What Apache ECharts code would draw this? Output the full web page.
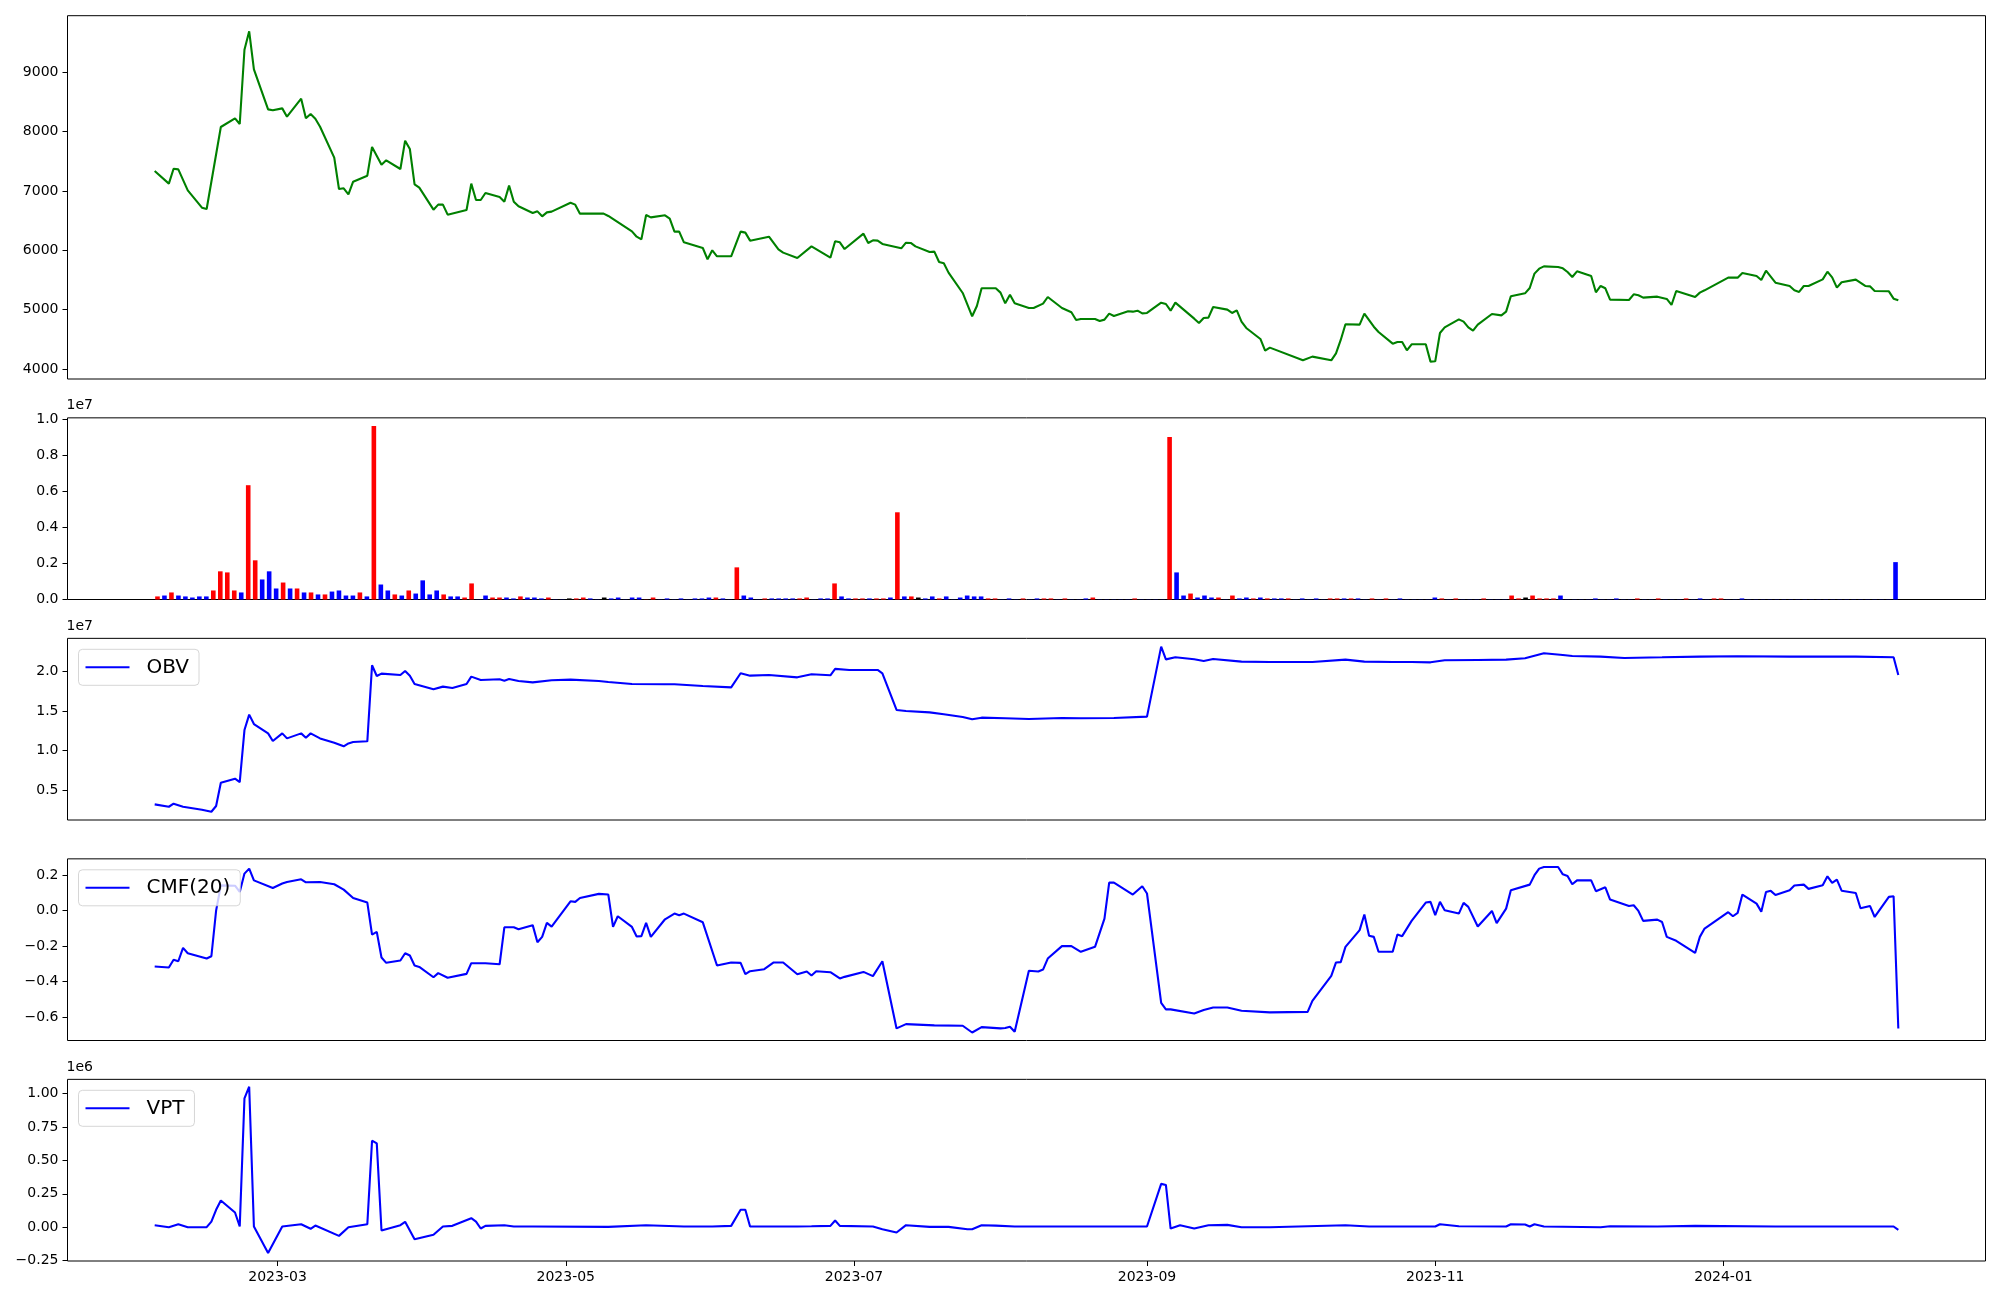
<!DOCTYPE html>
<html><head><meta charset="utf-8">
<script src="https://cdn.jsdelivr.net/npm/echarts@6/dist/echarts.min.js"></script>
<style>html,body{margin:0;padding:0;background:#fff}#c{width:2000px;height:1300px}</style>
</head><body><div id="c"></div>
<script>
// ---------------- data ----------------
const price = [
['2023-02-03',7337],['2023-02-06',7124],['2023-02-07',7376],['2023-02-08',7365],['2023-02-10',7011],['2023-02-13',6719],['2023-02-14',6697],['2023-02-17',8079],['2023-02-20',8225],['2023-02-21',8129],
['2023-02-22',9382],['2023-02-23',9691],['2023-02-24',9051],['2023-02-27',8376],['2023-02-28',8360],['2023-03-02',8393],['2023-03-03',8253],['2023-03-06',8556],['2023-03-07',8225],['2023-03-08',8298],
['2023-03-09',8219],['2023-03-10',8084],['2023-03-13',7562],['2023-03-14',7034],['2023-03-15',7045],['2023-03-16',6944],['2023-03-17',7157],['2023-03-20',7258],['2023-03-21',7742],['2023-03-23',7444],
['2023-03-24',7517],['2023-03-27',7371],['2023-03-28',7848],['2023-03-29',7708],['2023-03-30',7112],['2023-03-31',7056],['2023-04-03',6685],['2023-04-04',6770],['2023-04-05',6770],['2023-04-06',6601],
['2023-04-10',6680],['2023-04-11',7124],['2023-04-12',6848],['2023-04-13',6848],['2023-04-14',6966],['2023-04-17',6899],['2023-04-18',6820],['2023-04-19',7090],['2023-04-20',6820],['2023-04-21',6742],
['2023-04-24',6629],['2023-04-25',6657],['2023-04-26',6573],['2023-04-27',6640],['2023-04-28',6652],['2023-05-02',6803],['2023-05-03',6770],['2023-05-04',6618],['2023-05-09',6618],['2023-05-10',6579],
['2023-05-15',6320],['2023-05-16',6230],['2023-05-17',6185],['2023-05-18',6596],['2023-05-19',6556],['2023-05-22',6590],['2023-05-23',6534],['2023-05-24',6315],['2023-05-25',6315],['2023-05-26',6135],
['2023-05-30',6039],['2023-05-31',5848],['2023-06-01',6000],['2023-06-02',5899],['2023-06-05',5899],['2023-06-07',6315],['2023-06-08',6298],['2023-06-09',6163],['2023-06-13',6230],['2023-06-15',6017],
['2023-06-16',5961],['2023-06-19',5871],['2023-06-22',6067],['2023-06-26',5876],['2023-06-27',6152],['2023-06-28',6135],['2023-06-29',6022],['2023-07-03',6281],['2023-07-04',6124],['2023-07-05',6169],
['2023-07-06',6163],['2023-07-07',6107],['2023-07-11',6034],['2023-07-12',6129],['2023-07-13',6124],['2023-07-14',6067],['2023-07-17',5972],['2023-07-18',5978],['2023-07-19',5803],['2023-07-20',5781],
['2023-07-21',5624],['2023-07-24',5281],['2023-07-26',4888],['2023-07-27',5062],['2023-07-28',5360],['2023-07-31',5360],['2023-08-01',5287],['2023-08-02',5107],['2023-08-03',5253],['2023-08-04',5107],
['2023-08-07',5028],['2023-08-08',5028],['2023-08-10',5101],['2023-08-11',5213],['2023-08-14',5028],['2023-08-16',4955],['2023-08-17',4826],['2023-08-18',4843],['2023-08-21',4843],['2023-08-22',4809],
['2023-08-23',4832],['2023-08-24',4933],['2023-08-25',4893],['2023-08-28',4972],['2023-08-29',4966],['2023-08-30',4983],['2023-08-31',4938],['2023-09-01',4944],['2023-09-04',5118],['2023-09-05',5095],
['2023-09-06',4983],['2023-09-07',5118],['2023-09-11',4848],['2023-09-12',4775],['2023-09-13',4860],['2023-09-14',4865],['2023-09-15',5045],['2023-09-18',5000],['2023-09-19',4944],['2023-09-20',4989],
['2023-09-21',4798],['2023-09-22',4691],['2023-09-25',4506],['2023-09-26',4309],['2023-09-27',4360],['2023-10-04',4146],['2023-10-06',4208],['2023-10-10',4146],['2023-10-11',4264],['2023-10-12',4489],
['2023-10-13',4755],['2023-10-16',4748],['2023-10-17',4933],['2023-10-19',4713],['2023-10-20',4624],['2023-10-23',4427],['2023-10-24',4455],['2023-10-25',4455],['2023-10-26',4315],['2023-10-27',4416],
['2023-10-30',4416],['2023-10-31',4124],['2023-11-01',4129],['2023-11-02',4607],['2023-11-03',4702],['2023-11-06',4837],['2023-11-07',4798],['2023-11-08',4702],['2023-11-09',4646],['2023-11-10',4747],
['2023-11-13',4927],['2023-11-15',4904],['2023-11-16',4966],['2023-11-17',5225],['2023-11-20',5275],['2023-11-21',5365],['2023-11-22',5607],['2023-11-23',5691],['2023-11-24',5730],['2023-11-27',5719],
['2023-11-28',5697],['2023-11-29',5635],['2023-11-30',5551],['2023-12-01',5646],['2023-12-04',5567],['2023-12-05',5292],['2023-12-06',5399],['2023-12-07',5360],['2023-12-08',5169],['2023-12-12',5163],
['2023-12-13',5258],['2023-12-14',5242],['2023-12-15',5202],['2023-12-18',5219],['2023-12-20',5180],['2023-12-21',5079],['2023-12-22',5315],['2023-12-26',5213],['2023-12-27',5287],['2023-12-28',5326],
['2024-01-02',5539],['2024-01-04',5539],['2024-01-05',5618],['2024-01-08',5567],['2024-01-09',5500],['2024-01-10',5657],['2024-01-12',5455],['2024-01-15',5399],['2024-01-16',5326],['2024-01-17',5298],
['2024-01-18',5399],['2024-01-19',5399],['2024-01-22',5511],['2024-01-23',5640],['2024-01-24',5545],['2024-01-25',5371],['2024-01-26',5461],['2024-01-29',5506],['2024-01-31',5399],['2024-02-01',5393],
['2024-02-02',5315],['2024-02-05',5309],['2024-02-06',5185],['2024-02-07',5157]
];

// volume per trading day (250 sessions, drawn by session index)
const volume = [
1.7e5,2.2e5,3.9e5,2.2e5,1.7e5,1.1e5,1.7e5,1.7e5,5.0e5,1.56e6,
1.5e6,5.0e5,3.9e5,6.33e6,2.17e6,1.11e6,1.56e6,6.1e5,9.4e5,6.1e5,
6.1e5,3.9e5,3.9e5,2.8e5,2.8e5,4.4e5,5.0e5,2.2e5,2.2e5,3.9e5,
1.7e5,9.61e6,8.3e5,5.0e5,2.8e5,2.2e5,5.0e5,3.3e5,1.06e6,2.8e5,
5.0e5,2.8e5,1.7e5,1.7e5,1.1e5,8.9e5,1e4,2.2e5,1.1e5,1.1e5,
1.1e5,6e4,1.7e5,1.1e5,1.1e5,6e4,1.1e5,1e4,1e4,6e4,
6e4,1.1e5,6e4,1e4,1.1e5,6e4,1.1e5,1e4,1.1e5,1.1e5,
1e4,1.1e5,1e4,6e4,1e4,6e4,1e4,6e4,6e4,1.1e5,
1.1e5,6e4,1e4,1.78e6,2.2e5,1.1e5,1e4,6e4,6e4,6e4,
6e4,6e4,6e4,1.1e5,1e4,6e4,6e4,8.9e5,1.7e5,6e4,
6e4,6e4,6e4,6e4,6e4,1.1e5,4.83e6,1.7e5,1.7e5,1.1e5,
6e4,1.7e5,6e4,1.7e5,1e4,1.1e5,2.2e5,1.7e5,1.7e5,6e4,
6e4,1e4,6e4,1e4,6e4,1e4,6e4,6e4,6e4,1e4,
6e4,1e4,1e4,6e4,1.1e5,1e4,1e4,1e4,1e4,1e4,
6e4,1e4,1e4,1e4,1e4,9.0e6,1.5e6,2.2e5,3.3e5,1.1e5,
2.2e5,1.1e5,1.1e5,1e4,2.2e5,6e4,1.1e5,6e4,1.1e5,6e4,
6e4,6e4,6e4,1e4,6e4,1e4,6e4,1e4,6e4,6e4,
6e4,6e4,6e4,1e4,6e4,1e4,6e4,1e4,6e4,1e4,
1e4,1e4,1e4,1.1e5,6e4,1e4,6e4,1e4,1e4,1e4,
6e4,1e4,1e4,1e4,2.2e5,6e4,1.1e5,2.2e5,6e4,6e4,
6e4,2.2e5,1e4,1e4,1e4,1e4,6e4,1e4,1e4,6e4,
1e4,1e4,6e4,1e4,1e4,6e4,1e4,1e4,1e4,6e4,
1e4,6e4,1e4,6e4,6e4,1e4,1e4,6e4,1e4,1e4,
1e4,1e4,1e4,1e4,1e4,1e4,1e4,1e4,1e4,1e4,
1e4,1e4,1e4,1e4,1e4,1e4,1e4,1e4,1e4,2.07e6
];
// r = up day, b = down day, k = unchanged
const volumeDir = [
'rbrbbbbbrr','rrbrrbbbrb','rbrbrbbbbr','brbbrbrbbb','brbbrrbbrr',
'bbrbbbrbbk','rrbbkbbbbb','rrbbbbbbbb','rbbrbbbrbb','bbrrbbbrbb',
'rrbrrbrbrk','bbrbbbbbbr','rbbbrbbrrb','rbbbrbbbbb','rbbbbrbbrb',
'bbrbrbbrbr','bbrbbbbbrr','brbbrbrbbb','bbbbrbrbbb','rbbbrrkrrr',
'rbbbbbbbbb','bbrbbrbbbr','bbbrrbbbbb','bbbbbbbbbb','bbbbbbbbbb'
].join('');

const obv = [
['2023-02-03',3.24e6],['2023-02-06',2.94e6],['2023-02-07',3.32e6],['2023-02-09',2.94e6],['2023-02-13',2.56e6],['2023-02-15',2.31e6],['2023-02-16',3.03e6],['2023-02-17',5.97e6],['2023-02-20',6.47e6],['2023-02-21',6.05e6],
['2023-02-22',1.26e7],['2023-02-23',1.454e7],['2023-02-24',1.336e7],['2023-02-27',1.218e7],['2023-02-28',1.122e7],['2023-03-02',1.218e7],['2023-03-03',1.155e7],['2023-03-06',1.218e7],['2023-03-07',1.164e7],['2023-03-08',1.218e7],
['2023-03-10',1.155e7],['2023-03-13',1.101e7],['2023-03-15',1.055e7],['2023-03-16',1.092e7],['2023-03-17',1.109e7],['2023-03-20',1.118e7],['2023-03-21',2.076e7],['2023-03-22',1.941e7],['2023-03-23',1.971e7],['2023-03-27',1.954e7],
['2023-03-28',2.004e7],['2023-03-29',1.945e7],['2023-03-30',1.84e7],['2023-04-03',1.773e7],['2023-04-05',1.807e7],['2023-04-07',1.79e7],['2023-04-10',1.84e7],['2023-04-11',1.933e7],['2023-04-13',1.891e7],['2023-04-17',1.899e7],
['2023-04-18',1.882e7],['2023-04-19',1.903e7],['2023-04-21',1.878e7],['2023-04-24',1.861e7],['2023-04-28',1.887e7],['2023-05-02',1.895e7],['2023-05-08',1.878e7],['2023-05-10',1.866e7],['2023-05-15',1.84e7],['2023-05-22',1.836e7],
['2023-05-24',1.836e7],['2023-05-30',1.815e7],['2023-06-05',1.798e7],['2023-06-07',1.975e7],['2023-06-09',1.945e7],['2023-06-13',1.954e7],['2023-06-19',1.924e7],['2023-06-22',1.962e7],['2023-06-26',1.95e7],['2023-06-27',2.03e7],
['2023-06-30',2.017e7],['2023-07-06',2.017e7],['2023-07-07',1.975e7],['2023-07-10',1.513e7],['2023-07-12',1.5e7],['2023-07-17',1.483e7],['2023-07-20',1.458e7],['2023-07-24',1.424e7],['2023-07-26',1.395e7],['2023-07-28',1.416e7],
['2023-08-02',1.408e7],['2023-08-07',1.399e7],['2023-08-14',1.412e7],['2023-08-18',1.408e7],['2023-08-25',1.412e7],['2023-09-01',1.429e7],['2023-09-04',2.311e7],['2023-09-05',2.15e7],['2023-09-07',2.176e7],['2023-09-11',2.151e7],
['2023-09-13',2.13e7],['2023-09-15',2.155e7],['2023-09-21',2.122e7],['2023-09-27',2.118e7],['2023-10-06',2.118e7],['2023-10-13',2.147e7],['2023-10-17',2.122e7],['2023-10-23',2.118e7],['2023-10-27',2.118e7],['2023-10-31',2.113e7],
['2023-11-03',2.139e7],['2023-11-10',2.143e7],['2023-11-16',2.147e7],['2023-11-20',2.164e7],['2023-11-24',2.227e7],['2023-11-28',2.206e7],['2023-11-30',2.193e7],['2023-12-06',2.185e7],['2023-12-11',2.168e7],['2023-12-19',2.176e7],
['2023-12-27',2.185e7],['2024-01-04',2.189e7],['2024-01-15',2.185e7],['2024-01-29',2.185e7],['2024-02-06',2.176e7],['2024-02-07',1.954e7]
];

const cmf = [
['2023-02-03',-0.315],['2023-02-06',-0.32],['2023-02-07',-0.277],['2023-02-08',-0.285],['2023-02-09',-0.21],['2023-02-10',-0.24],['2023-02-14',-0.27],['2023-02-15',-0.257],['2023-02-16',0.0],['2023-02-17',0.142],
['2023-02-20',0.14],['2023-02-21',0.105],['2023-02-22',0.208],['2023-02-23',0.236],['2023-02-24',0.17],['2023-02-28',0.127],['2023-03-02',0.152],['2023-03-03',0.161],['2023-03-06',0.176],['2023-03-07',0.159],
['2023-03-10',0.161],['2023-03-13',0.148],['2023-03-15',0.118],['2023-03-17',0.071],['2023-03-20',0.045],['2023-03-21',-0.135],['2023-03-22',-0.12],['2023-03-23',-0.264],['2023-03-24',-0.294],['2023-03-27',-0.281],
['2023-03-28',-0.24],['2023-03-29',-0.253],['2023-03-30',-0.309],['2023-03-31',-0.317],['2023-04-03',-0.375],['2023-04-04',-0.352],['2023-04-06',-0.378],['2023-04-10',-0.356],['2023-04-11',-0.296],['2023-04-14',-0.296],
['2023-04-17',-0.302],['2023-04-18',-0.094],['2023-04-20',-0.094],['2023-04-21',-0.105],['2023-04-24',-0.082],['2023-04-25',-0.178],['2023-04-26',-0.148],['2023-04-27',-0.069],['2023-04-28',-0.09],['2023-05-02',0.052],
['2023-05-03',0.049],['2023-05-04',0.071],['2023-05-08',0.094],['2023-05-10',0.09],['2023-05-11',-0.092],['2023-05-12',-0.032],['2023-05-15',-0.092],['2023-05-16',-0.146],['2023-05-17',-0.144],['2023-05-18',-0.069],
['2023-05-19',-0.148],['2023-05-22',-0.049],['2023-05-24',-0.017],['2023-05-25',-0.026],['2023-05-26',-0.017],['2023-05-30',-0.066],['2023-06-02',-0.309],['2023-06-05',-0.292],['2023-06-07',-0.294],['2023-06-08',-0.358],
['2023-06-09',-0.341],['2023-06-12',-0.33],['2023-06-14',-0.292],['2023-06-16',-0.292],['2023-06-19',-0.358],['2023-06-21',-0.343],['2023-06-22',-0.365],['2023-06-23',-0.341],['2023-06-26',-0.347],['2023-06-28',-0.382],
['2023-06-29',-0.373],['2023-07-03',-0.345],['2023-07-05',-0.369],['2023-07-07',-0.285],['2023-07-10',-0.663],['2023-07-12',-0.639],['2023-07-18',-0.646],['2023-07-24',-0.648],['2023-07-26',-0.686],['2023-07-28',-0.656],
['2023-08-01',-0.663],['2023-08-02',-0.661],['2023-08-03',-0.654],['2023-08-04',-0.682],['2023-08-07',-0.339],['2023-08-09',-0.343],['2023-08-10',-0.332],['2023-08-11',-0.27],['2023-08-14',-0.2],['2023-08-16',-0.2],
['2023-08-18',-0.232],['2023-08-21',-0.204],['2023-08-23',-0.045],['2023-08-24',0.157],['2023-08-25',0.157],['2023-08-29',0.09],['2023-08-31',0.137],['2023-09-01',0.096],['2023-09-04',-0.519],['2023-09-05',-0.556],
['2023-09-06',-0.556],['2023-09-11',-0.579],['2023-09-13',-0.56],['2023-09-15',-0.545],['2023-09-18',-0.545],['2023-09-21',-0.564],['2023-09-27',-0.573],['2023-10-05',-0.57],['2023-10-06',-0.508],['2023-10-10',-0.367],
['2023-10-11',-0.292],['2023-10-12',-0.29],['2023-10-13',-0.204],['2023-10-16',-0.11],['2023-10-17',-0.022],['2023-10-18',-0.142],['2023-10-19',-0.148],['2023-10-20',-0.232],['2023-10-23',-0.232],['2023-10-24',-0.135],
['2023-10-25',-0.144],['2023-10-27',-0.058],['2023-10-30',0.045],['2023-10-31',0.049],['2023-11-01',-0.026],['2023-11-02',0.049],['2023-11-03',0.002],['2023-11-06',-0.017],['2023-11-07',0.043],['2023-11-08',0.021],
['2023-11-10',-0.09],['2023-11-13',-0.002],['2023-11-14',-0.071],['2023-11-16',0.011],['2023-11-17',0.114],['2023-11-21',0.146],['2023-11-22',0.199],['2023-11-23',0.236],['2023-11-24',0.245],['2023-11-27',0.245],
['2023-11-28',0.204],['2023-11-29',0.195],['2023-11-30',0.148],['2023-12-01',0.17],['2023-12-04',0.17],['2023-12-05',0.109],['2023-12-07',0.131],['2023-12-08',0.062],['2023-12-12',0.026],['2023-12-13',0.03],
['2023-12-14',-0.002],['2023-12-15',-0.058],['2023-12-18',-0.051],['2023-12-19',-0.064],['2023-12-20',-0.148],['2023-12-22',-0.17],['2023-12-26',-0.238],['2023-12-27',-0.148],['2023-12-28',-0.101],['2024-01-02',-0.009],
['2024-01-03',-0.032],['2024-01-04',-0.013],['2024-01-05',0.09],['2024-01-08',0.039],['2024-01-09',-0.006],['2024-01-10',0.105],['2024-01-11',0.111],['2024-01-12',0.088],['2024-01-15',0.114],['2024-01-16',0.141],
['2024-01-18',0.146],['2024-01-19',0.122],['2024-01-22',0.142],['2024-01-23',0.193],['2024-01-24',0.156],['2024-01-25',0.174],['2024-01-26',0.112],['2024-01-29',0.099],['2024-01-30',0.013],['2024-02-01',0.026],
['2024-02-02',-0.036],['2024-02-05',0.077],['2024-02-06',0.081],['2024-02-07',-0.663]
];

const vpt = [
['2023-02-03',1.5e4],['2023-02-06',0],['2023-02-08',2.2e4],['2023-02-10',0],['2023-02-14',0],['2023-02-15',4.2e4],['2023-02-16',1.3e5],['2023-02-17',2.0e5],['2023-02-20',1.1e5],['2023-02-21',5e3],
['2023-02-22',9.64e5],['2023-02-23',1.051e6],['2023-02-24',5e3],['2023-02-27',-1.94e5],['2023-03-02',5e3],['2023-03-06',2.2e4],['2023-03-08',-1.2e4],['2023-03-09',1.2e4],['2023-03-14',-6.5e4],['2023-03-16',0],
['2023-03-20',2.2e4],['2023-03-21',6.47e5],['2023-03-22',6.27e5],['2023-03-23',-2.5e4],['2023-03-27',1.5e4],['2023-03-28',4.0e4],['2023-03-30',-9.0e4],['2023-04-03',-5.7e4],['2023-04-05',5e3],['2023-04-07',1e4],
['2023-04-11',6.7e4],['2023-04-12',4.2e4],['2023-04-13',-1e4],['2023-04-14',1e4],['2023-04-18',1.5e4],['2023-04-20',5e3],['2023-04-24',5e3],['2023-05-10',2e3],['2023-05-18',1.5e4],['2023-05-26',5e3],
['2023-06-01',5e3],['2023-06-05',1e4],['2023-06-07',1.3e5],['2023-06-08',1.3e5],['2023-06-09',5e3],['2023-06-19',5e3],['2023-06-22',7e3],['2023-06-26',1e4],['2023-06-27',5e4],['2023-06-28',1e4],
['2023-07-05',5e3],['2023-07-07',-1.5e4],['2023-07-10',-4e4],['2023-07-12',1.5e4],['2023-07-17',2e3],['2023-07-21',2e3],['2023-07-25',-1.5e4],['2023-07-26',-1.5e4],['2023-07-28',1.5e4],['2023-07-31',1.2e4],
['2023-08-04',5e3],['2023-08-21',5e3],['2023-09-01',5e3],['2023-09-04',3.24e5],['2023-09-05',3.16e5],['2023-09-06',-1e4],['2023-09-08',1.5e4],['2023-09-11',-1e4],['2023-09-14',1.5e4],['2023-09-18',1.7e4],
['2023-09-21',0],['2023-09-27',0],['2023-10-13',1.5e4],['2023-10-18',5e3],['2023-11-01',5e3],['2023-11-02',2.2e4],['2023-11-06',7e3],['2023-11-16',5e3],['2023-11-17',2.2e4],['2023-11-20',2e4],
['2023-11-21',5e3],['2023-11-22',2.2e4],['2023-11-24',5e3],['2023-12-06',0],['2023-12-08',7e3],['2023-12-18',5e3],['2023-12-26',1e4],['2024-01-12',5e3],['2024-02-06',5e3],['2024-02-07',-2e4]
];

// tick labels
const xTickLabels = ['2023-03','2023-05','2023-07','2023-09','2023-11','2024-01'];
const priceTicks = [4000,5000,6000,7000,8000,9000];
const volumeTicks = [0,2e6,4e6,6e6,8e6,1e7];
const obvTicks = [5e6,1e7,1.5e7,2e7];
const cmfTicks = [-0.6,-0.4,-0.2,0,0.2];
const vptTicks = [-2.5e5,0,2.5e5,5e5,7.5e5,1e6];

// ---------------- chart ----------------
const FONT = 'DejaVu Sans';
const minus = s => s.replace('-', '\u2212');
const ts = s => { const p = s.split('-').map(Number); return new Date(p[0], p[1]-1, p[2] || 1).getTime(); };
const toXY = arr => arr.map(d => [ts(d[0]), d[1]]);
const xMin = new Date(2023,0,15,13,12).getTime();
const xMax = new Date(2024,1,25,10,48).getTime();
const xTickValues = xTickLabels.map(s => ts(s));
const labelOf = {};
xTickLabels.forEach((s,i) => { labelOf[xTickValues[i]] = s; });
const dirColor = {r:'#ff0000', b:'#0000ff', k:'#000000'};

const L = 67.5, W = 1918, H = 181.65;
const tops = [15.7, 417.85, 638.35, 858.85, 1079.35];
const grids = tops.map((t,i) => ({left:L, width:W, top:t, height: i===0 ? 363.3 : H,
  show:true, borderColor:'#000', borderWidth:1, backgroundColor:'transparent'}));

function dateAxis(gi, showLabels){
  return {type:'value', gridIndex:gi, min:xMin, max:xMax, scale:true, position:'bottom',
    axisLine:{show:false, onZero:false}, splitLine:{show:false},
    axisTick:{show:showLabels, customValues:xTickValues, length:5, lineStyle:{color:'#000',width:1}},
    axisLabel:{show:showLabels, customValues:xTickValues, margin:9, fontFamily:FONT, fontSize:14, color:'#000',
      formatter: v => labelOf[v] || ''}};
}
function yAx(gi, min, max, ticks, fmt, name){
  return {type:'value', gridIndex:gi, min:min, max:max, scale:true, position:'left',
    axisLine:{show:false, onZero:false}, splitLine:{show:false},
    axisTick:{show:true, customValues:ticks, length:5, lineStyle:{color:'#000',width:1}},
    axisLabel:{customValues:ticks, margin:9, fontFamily:FONT, fontSize:14, color:'#000', formatter:fmt},
    name: name || '', nameLocation:'end', nameGap:5,
    nameTextStyle:{align:'left', verticalAlign:'bottom', fontFamily:FONT, fontSize:14, color:'#000', padding:[0,0,0,-1]}};
}
function legend(name, top){
  return {data:[name], left:78.5, top:top, orient:'horizontal', selectedMode:false,
    icon:'rect', itemWidth:44, itemHeight:2,
    padding:[7,10,7,7], borderColor:'rgba(204,204,204,0.8)', borderWidth:1, borderRadius:4,
    backgroundColor:'rgba(255,255,255,0.8)',
    textStyle:{fontFamily:FONT, fontSize:20, color:'#000', lineHeight:22, padding:[0,0,0,12]}};
}
const lineStyle = c => ({color:c, width:2.1});

const option = {
  animation:false,
  backgroundColor:'#fff',
  grid: grids,
  xAxis: [
    dateAxis(0,false),
    {type:'value', gridIndex:1, min:-12.89, max:261.89, show:false, axisLine:{onZero:false}},
    dateAxis(2,false),
    dateAxis(3,false),
    dateAxis(4,true)
  ],
  yAxis: [
    yAx(0, 3831, 9955, priceTicks, v => String(v)),
    yAx(1, 0, 1.006e7, volumeTicks, v => (v/1e7).toFixed(1), '1e7'),
    yAx(2, 1.27e6, 2.415e7, obvTicks, v => (v/1e7).toFixed(1), '1e7'),
    yAx(3, -0.731, 0.291, cmfTicks, v => minus(v.toFixed(1))),
    yAx(4, -2.53e5, 1.106e6, vptTicks, v => minus((v/1e6).toFixed(2)), '1e6')
  ],
  legend: [legend('OBV', 649.3), legend('CMF(20)', 869.8), legend('VPT', 1090.3)],
  series: [
    {type:'line', name:'Price', xAxisIndex:0, yAxisIndex:0, data:toXY(price), showSymbol:false, silent:true,
      lineStyle:lineStyle('#008000'), itemStyle:{color:'#008000'}},
    {type:'bar', name:'Volume', xAxisIndex:1, yAxisIndex:1, barWidth:4.6, silent:true,
      data: volume.map((v,i) => ({value:[i,v], itemStyle:{color:dirColor[volumeDir[i]]}}))},
    {type:'line', name:'OBV', xAxisIndex:2, yAxisIndex:2, data:toXY(obv), showSymbol:false, silent:true,
      lineStyle:lineStyle('#0000ff'), itemStyle:{color:'#0000ff'}},
    {type:'line', name:'CMF(20)', xAxisIndex:3, yAxisIndex:3, data:toXY(cmf), showSymbol:false, silent:true,
      lineStyle:lineStyle('#0000ff'), itemStyle:{color:'#0000ff'}},
    {type:'line', name:'VPT', xAxisIndex:4, yAxisIndex:4, data:toXY(vpt), showSymbol:false, silent:true,
      lineStyle:lineStyle('#0000ff'), itemStyle:{color:'#0000ff'}}
  ]
};
const chart = echarts.init(document.getElementById('c'), null, {renderer:'canvas', width:2000, height:1300});
chart.setOption(option);
</script>
</body></html>
